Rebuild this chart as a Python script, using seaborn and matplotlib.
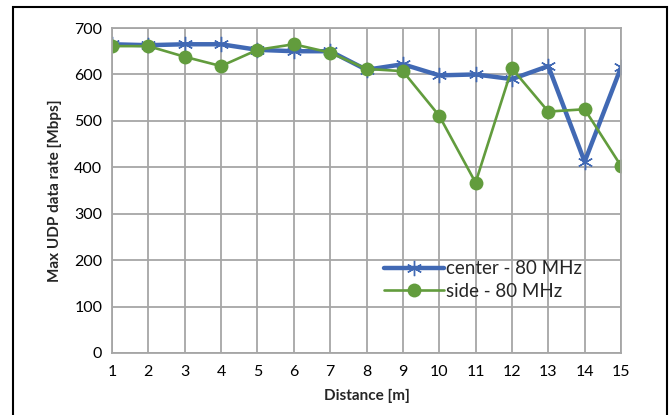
import numpy as np
import pandas as pd
import matplotlib
matplotlib.use("Agg")
import matplotlib.pyplot as plt
import seaborn as sns
from matplotlib.patches import Rectangle

# data
distance = list(range(1, 16))
center_80 = [665, 663, 665, 665, 653, 650, 650, 610, 622, 598, 600, 590, 618, 412, 615]
side_80 = [661, 661, 638, 618, 653, 665, 647, 612, 607, 511, 367, 613, 520, 525, 403]

df = pd.DataFrame({"Distance": distance, "center": center_80, "side": side_80})

sns.set_style("white")
plt.rcParams["font.family"] = ["Lato", "DejaVu Sans"]

fig = plt.figure(figsize=(6.72, 4.15), dpi=100)
ax = fig.add_axes([0.1667, 0.1494, 0.7574, 0.7831])

blue = "#4169B4"
green = "#629C3D"

sns.lineplot(data=df, x="Distance", y="center", ax=ax, color=blue, linewidth=3.2,
             marker=(6, 2, 0), markersize=11, markeredgewidth=1.0,
             markeredgecolor=blue, label="center - 80 MHz")
sns.lineplot(data=df, x="Distance", y="side", ax=ax, color=green, linewidth=1.9,
             marker="o", markersize=10, markeredgewidth=0,
             label="side - 80 MHz")

ax.set_xlim(1, 15)
ax.set_ylim(0, 700)
ax.set_xticks(distance)
ax.set_yticks(range(0, 701, 100))
ax.grid(True, color="#A6A6A6", linewidth=1.3)
ax.set_axisbelow(True)
for s in ax.spines.values():
    s.set_color("#A6A6A6")
    s.set_linewidth(1.3)
ax.tick_params(axis="both", length=0, labelsize=11.5, colors="black")
ax.tick_params(axis="x", pad=9)
ax.tick_params(axis="y", pad=7)

ax.set_xlabel("Distance [m]", fontsize=11, fontweight="bold", labelpad=7)
ax.set_ylabel("Max UDP data rate [Mbps]", fontsize=11, fontweight="bold", labelpad=9)

leg = ax.legend(loc="center left", bbox_to_anchor=(0.52, 0.225), frameon=False,
                fontsize=13.5, handlelength=3.2, handletextpad=0.1, labelspacing=0.3,
                borderaxespad=0)

# outer chart border
fig.patches.append(Rectangle((13 / 672, -0.01), 654 / 672, 1.01 - 7 / 415,
                             transform=fig.transFigure, fill=False,
                             edgecolor="black", linewidth=1.5))

fig.savefig("out.png", dpi=100)
